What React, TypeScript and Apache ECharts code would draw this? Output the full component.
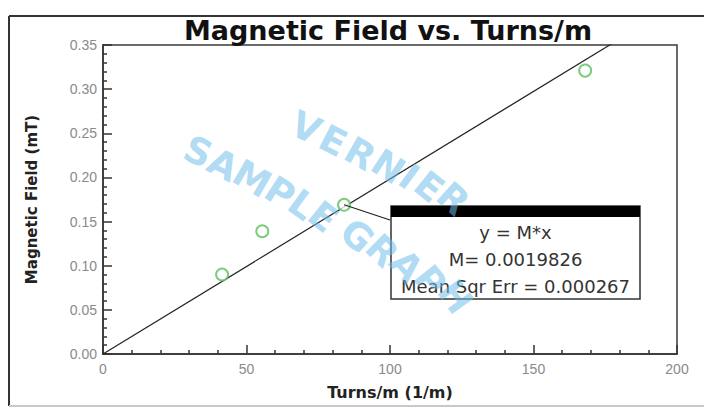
import React, { useEffect, useRef } from "react";
import * as echarts from "echarts";

const turnsPerM = [41.5, 55.5, 84, 168];
const fieldMT = [0.09, 0.139, 0.169, 0.321];
const slopeM = 0.0019826;
const slopeLabel = "0.0019826";
const mseLabel = "0.000267";
const titleText = "Magnetic Field vs. Turns/m";
const xName = "Turns/m (1/m)";
const yName = "Magnetic Field (mT)";
const fitLabel = "y = M*x";

const wmTop = "VERNIER";
const wmBottom = "SAMPLE GRAPH";
const wmTopPos = [
  [306, 128, 24], [333, 141, 27], [360, 154, 30], [388, 167, 33], [409, 177, 36], [429, 187, 39], [453, 199, 42],
];
const wmBottomPos = [
  [198, 152, 24], [223, 165, 27], [252, 179, 30], [280, 193, 33], [302, 205, 36], [323, 217, 39],
  [0, 0, 0],
  [357, 236, 42], [382, 251, 45], [406, 266, 48], [430, 281, 51], [455, 297, 54],
];

export default function App() {
  const ref = useRef<HTMLDivElement>(null);
  useEffect(() => {
    document.body.style.margin = "0";
    const chart = echarts.init(ref.current!, null, { renderer: "svg" });
    const xMax = 200;
    const option: any = {
      animation: false,
      backgroundColor: "#ffffff",
      grid: {
        left: 103, right: 27, top: 45, bottom: 56,
        show: true, borderColor: "#3a3a3a", borderWidth: 1.5, backgroundColor: "transparent",
      },
      xAxis: {
        type: "value", min: 0, max: xMax, interval: 50,
        name: xName, nameLocation: "middle", nameGap: 30,
        nameTextStyle: { fontFamily: "DejaVu Sans", fontWeight: "bold", fontSize: 16, color: "#222" },
        axisLine: { show: true, onZero: false, lineStyle: { color: "#333", width: 1.5 } },
        axisTick: { show: true, inside: true, length: 9, lineStyle: { color: "#333", width: 1.5 } },
        minorTick: { show: true, splitNumber: 5, length: 4, lineStyle: { color: "#333", width: 1.5 } },
        axisLabel: { color: "#8a8a8a", fontFamily: "Liberation Sans", fontSize: 14, margin: 8 },
        splitLine: { show: false },
      },
      yAxis: {
        type: "value", min: 0, max: 0.35, interval: 0.05,
        name: yName, nameLocation: "middle", nameGap: 64,
        nameTextStyle: { fontFamily: "DejaVu Sans", fontWeight: "bold", fontSize: 15, color: "#222" },
        axisLine: { show: true, onZero: false, lineStyle: { color: "#333", width: 1.5 } },
        axisTick: { show: true, inside: true, length: 9, lineStyle: { color: "#333", width: 1.5 } },
        minorTick: { show: true, splitNumber: 5, length: 4, lineStyle: { color: "#333", width: 1.5 } },
        axisLabel: {
          color: "#8a8a8a", fontFamily: "Liberation Sans", fontSize: 14, margin: 6,
          formatter: (v: number) => v.toFixed(2),
        },
        splitLine: { show: false },
      },
      series: [
        {
          type: "line",
          data: [[0, 0], [xMax, xMax * slopeM]],
          showSymbol: false,
          clip: true,
          lineStyle: { color: "#222", width: 1.2 },
          z: 3,
        },
        {
          type: "scatter",
          data: turnsPerM.map((x, i) => [x, fieldMT[i]]),
          symbol: "emptyCircle",
          symbolSize: 12,
          itemStyle: { color: "#5cbf5c", borderWidth: 1.5 },
          z: 4,
        },
      ],
    };
    chart.setOption(option);

    const p = chart.convertToPixel({ gridIndex: 0 }, [turnsPerM[2], fieldMT[2]]) as number[];
    const bx = 391, by = 206, bw = 249, bh = 93;
    const wmStyle = {
      fill: "rgba(110,190,235,0.55)", fontFamily: "DejaVu Sans", fontWeight: "bold", fontSize: 37,
      align: "center", verticalAlign: "middle",
    };
    const letters: any[] = [];
    wmTop.split("").forEach((ch, i) => {
      const [x, y, r] = wmTopPos[i];
      letters.push({ type: "text", x, y, rotation: (-r * Math.PI) / 180, z: 20, style: { ...wmStyle, text: ch } });
    });
    wmBottom.split("").forEach((ch, i) => {
      if (ch === " ") return;
      const [x, y, r] = wmBottomPos[i];
      letters.push({ type: "text", x, y, rotation: (-r * Math.PI) / 180, z: 20, style: { ...wmStyle, text: ch } });
    });

    chart.setOption({
      graphic: [
        { type: "line", shape: { x1: 9, y1: 16, x2: 704, y2: 16 }, style: { stroke: "#333", lineWidth: 2 }, z: 1 },
        { type: "line", shape: { x1: 9, y1: 16, x2: 9, y2: 406 }, style: { stroke: "#333", lineWidth: 2 }, z: 1 },
        { type: "line", shape: { x1: 9, y1: 406, x2: 704, y2: 406 }, style: { stroke: "#c8c8c8", lineWidth: 2 }, z: 1 },
        {
          type: "text", x: 388, y: 30, z: 10,
          style: {
            text: titleText, fontFamily: "DejaVu Sans", fontWeight: "bold", fontSize: 27, fill: "#111",
            align: "center", verticalAlign: "middle",
          },
        },
        { type: "line", shape: { x1: p[0], y1: p[1], x2: bx - 1, y2: by + 14 }, style: { stroke: "#222", lineWidth: 1.2 }, z: 10 },
        { type: "rect", shape: { x: bx, y: by, width: bw, height: bh }, style: { fill: "#fff", stroke: "#333", lineWidth: 1.5 }, z: 10 },
        { type: "rect", shape: { x: bx, y: by, width: bw, height: 11 }, style: { fill: "#000" }, z: 11 },
        {
          type: "text", x: bx + bw / 2, y: 232, z: 12,
          style: { text: fitLabel, fontFamily: "DejaVu Sans", fontSize: 18, fill: "#333", align: "center", verticalAlign: "middle" },
        },
        {
          type: "text", x: bx + bw / 2, y: 259, z: 12,
          style: { text: "M= " + slopeLabel, fontFamily: "DejaVu Sans", fontSize: 18, fill: "#333", align: "center", verticalAlign: "middle" },
        },
        {
          type: "text", x: bx + bw / 2, y: 286, z: 12,
          style: { text: "Mean Sqr Err = " + mseLabel, fontFamily: "DejaVu Sans", fontSize: 18, fill: "#333", align: "center", verticalAlign: "middle" },
        },
        ...letters,
      ],
    });
    return () => chart.dispose();
  }, []);
  return <div ref={ref} style={{ position: "fixed", left: 0, top: 0, width: 704, height: 410 }} />;
}
